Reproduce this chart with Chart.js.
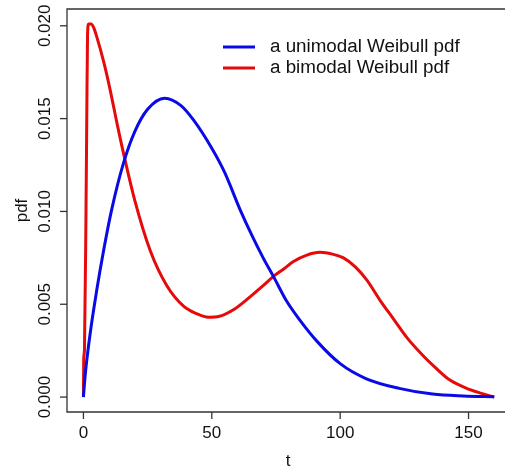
<!DOCTYPE html>
<html>
<head>
<meta charset="utf-8">
<script src="https://cdn.jsdelivr.net/npm/chart.js@4/dist/chart.umd.min.js"></script>
<style>
  html, body { margin: 0; padding: 0; background: #fff; overflow: hidden; }
  #wrap { position: absolute; left: 0; top: 0; width: 505px; height: 470px; }
</style>
</head>
<body>
<div id="wrap"><canvas id="weibull-chart" width="505" height="470"></canvas></div>
<script>
// values
const tUnimodal = [0, 0.7, 2.6, 5, 8, 11, 15.6, 20, 25, 31.6, 38, 43, 50, 55, 61, 66, 70, 74, 79, 84, 91, 100, 110, 123, 136, 148, 160];
const pdfUnimodal = [0, 0.0012, 0.0034, 0.0056, 0.0080, 0.0101, 0.0126, 0.0143, 0.0155, 0.0161, 0.0157, 0.0149, 0.0134, 0.0121, 0.0101, 0.0086, 0.0075, 0.0065, 0.0052, 0.0042, 0.0030, 0.0018, 0.0010, 0.00047, 0.00016, 0.00006, 0.00002];

const tBimodal = [0, 0.1, 0.4, 1.0, 1.3, 1.6, 2, 3, 4, 5.2, 8, 10.4, 13, 15.6, 20, 26, 32.5, 39, 44, 48.7, 53, 58.4, 64.9, 70, 74, 78, 81.8, 87, 92.2, 97, 101.3, 106, 110.4, 115.6, 120.8, 126, 132.5, 137, 142.9, 150.6, 155, 160];
const pdfBimodal = [0, 0.002, 0.0025, 0.0100, 0.0150, 0.0195, 0.0201, 0.0201, 0.0199, 0.0194, 0.0180, 0.01655, 0.0148, 0.01314, 0.0106, 0.0079, 0.0060, 0.0049, 0.0045, 0.0043, 0.00435, 0.0047, 0.0054, 0.0060, 0.0065, 0.0069, 0.0073, 0.00765, 0.0078, 0.0077, 0.0075, 0.0070, 0.0063, 0.0052, 0.0042, 0.0032, 0.0022, 0.0016, 0.0009, 0.0004, 0.0002, 0.0];

const xTicks = [0, 50, 100, 150];
const yTicks = [0, 0.005, 0.010, 0.015, 0.020];
const yTickLabels = ['0.000', '0.005', '0.010', '0.015', '0.020'];
const seriesNames = ['a unimodal Weibull pdf', 'a bimodal Weibull pdf'];
const seriesColors = ['#0a0ae6', '#e60a0a'];

const toPoints = (xs, ys) => xs.map((x, i) => ({ x: x, y: ys[i] }));

// R style axes, box and legend drawn on top of the chart area
const rAxes = {
    id: 'rAxes',
    afterDraw(chart) {
        const ctx = chart.ctx;
        const area = chart.chartArea;
        const xs = chart.scales.x;
        const ys = chart.scales.y;
        ctx.save();
        ctx.strokeStyle = '#333';
        ctx.lineWidth = 1.3;
        // box runs past the right edge of the picture
        ctx.beginPath();
        ctx.moveTo(area.right + 10, area.top);
        ctx.lineTo(area.left, area.top);
        ctx.lineTo(area.left, area.bottom);
        ctx.lineTo(area.right + 10, area.bottom);
        ctx.stroke();

        ctx.fillStyle = '#111';
        ctx.font = '17px "Liberation Sans", Arial, sans-serif';

        // x axis ticks
        ctx.textAlign = 'center';
        ctx.textBaseline = 'middle';
        xTicks.forEach(v => {
            const px = xs.getPixelForValue(v);
            ctx.beginPath();
            ctx.moveTo(px, area.bottom);
            ctx.lineTo(px, area.bottom + 7);
            ctx.stroke();
            ctx.fillText(String(v), px, 433);
        });

        // y axis ticks, labels rotated like R
        yTicks.forEach((v, i) => {
            const py = ys.getPixelForValue(v);
            ctx.beginPath();
            ctx.moveTo(area.left, py);
            ctx.lineTo(area.left - 7, py);
            ctx.stroke();
            ctx.save();
            ctx.translate(45, py);
            ctx.rotate(-Math.PI / 2);
            ctx.fillText(yTickLabels[i], 0, 0);
            ctx.restore();
        });

        // axis titles
        ctx.fillText('t', 288, 461);
        ctx.save();
        ctx.translate(22, (area.top + area.bottom) / 2);
        ctx.rotate(-Math.PI / 2);
        ctx.fillText('pdf', 0, 0);
        ctx.restore();

        // legend
        ctx.font = '18.8px "Liberation Sans", Arial, sans-serif';
        ctx.textAlign = 'left';
        seriesNames.forEach((name, i) => {
            const ly = 47 + i * 21;
            ctx.strokeStyle = seriesColors[i];
            ctx.lineWidth = 3;
            ctx.beginPath();
            ctx.moveTo(223, ly);
            ctx.lineTo(255, ly);
            ctx.stroke();
            ctx.fillStyle = '#111';
            ctx.fillText(name, 270, ly);
        });
        ctx.restore();
    }
};

new Chart(document.getElementById('weibull-chart').getContext('2d'), {
    type: 'line',
    data: {
        datasets: [
            { label: seriesNames[0], data: toPoints(tUnimodal, pdfUnimodal), borderColor: seriesColors[0] },
            { label: seriesNames[1], data: toPoints(tBimodal, pdfBimodal), borderColor: seriesColors[1] }
        ]
    },
    options: {
        responsive: false,
        animation: false,
        layout: { padding: { left: 67, right: 0, top: 9, bottom: 58 } },
        elements: {
            point: { radius: 0 },
            line: { borderWidth: 3, cubicInterpolationMode: 'monotone', fill: false }
        },
        plugins: { legend: { display: false }, tooltip: { enabled: false } },
        scales: {
            x: { type: 'linear', min: -6.4, max: 164.2, display: false },
            y: { type: 'linear', min: -0.000804, max: 0.020904, display: false }
        }
    },
    plugins: [rAxes]
});
</script>
</body>
</html>
